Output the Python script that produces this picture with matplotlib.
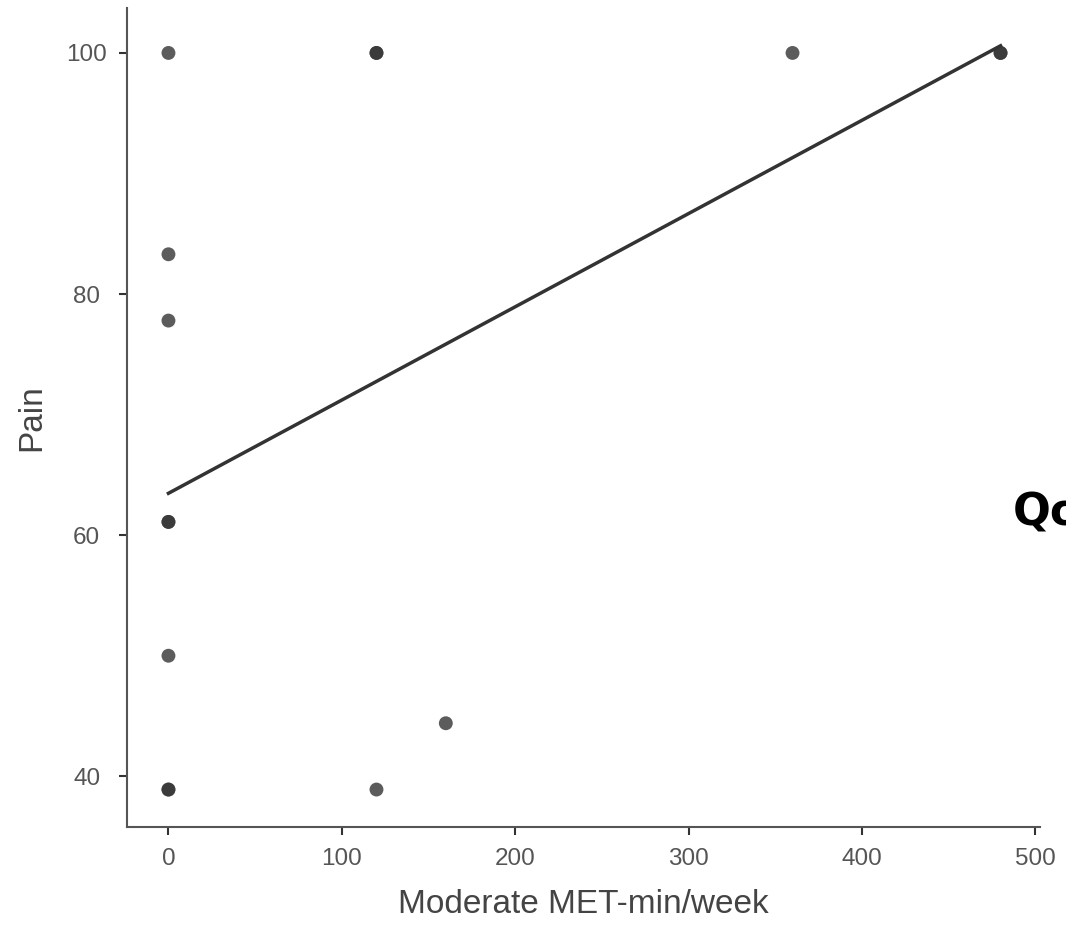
import numpy as np
import matplotlib
matplotlib.use("Agg")
from matplotlib import pyplot as plt

# Datos (puntos repetidos se ven más oscuros)
met_min = [0, 0, 0, 0, 0, 0, 0, 0, 120, 120, 120, 160, 360, 480, 480]
pain = [100, 83.3, 77.8, 61.1, 61.1, 50, 38.9, 38.9,
        100, 100, 38.9, 44.4, 100, 100, 100]
x_ticks = [0, 100, 200, 300, 400, 500]
y_ticks = [40, 60, 80, 100]

x = np.array(met_min, dtype=float)
y = np.array(pain, dtype=float)

fig = plt.figure(figsize=(10.66, 9.26), dpi=100)
ax = fig.add_axes([0.119, 0.107, 0.857, 0.884])

ax.scatter(x, y, s=100, color="#333333", alpha=0.8, edgecolors="none", zorder=3)

# Recta de regresión
slope, intercept = np.polyfit(x, y, 1)
xs = np.array([x.min(), x.max()])
ax.plot(xs, intercept + slope * xs, color="#333333", lw=2.5, zorder=2)

ax.set_xlim(-24, 503)
ax.set_ylim(35.8, 103.7)
ax.set_xticks(x_ticks)
ax.set_yticks(y_ticks)

for side in ["top", "right"]:
    ax.spines[side].set_visible(False)
for side in ["left", "bottom"]:
    ax.spines[side].set_color("#555555")
    ax.spines[side].set_linewidth(1.5)

ax.tick_params(direction="out", length=5.5, width=1.5, color="#333333",
               labelsize=17.5, labelcolor="#555555")
ax.tick_params(axis="x", pad=9.5)
ax.tick_params(axis="y", pad=23.5)
for lab in ax.get_xticklabels() + ax.get_yticklabels():
    lab.set_family("Liberation Sans")
for lab in ax.get_yticklabels():
    lab.set_horizontalalignment("center")

ax.set_xlabel("Moderate MET-min/week", fontsize=24, color="#444444",
              family="Liberation Sans", labelpad=14)
ax.set_ylabel("Pain", fontsize=24, color="#444444",
              family="Liberation Sans", labelpad=14)

# Título recortado a la derecha
fig.text(1013 / 1066, 1 - 525 / 926, "QoL", fontsize=32,
         fontweight="bold", color="black", family="DejaVu Sans",
         ha="left", va="baseline")

fig.savefig("out.png", dpi=100)
